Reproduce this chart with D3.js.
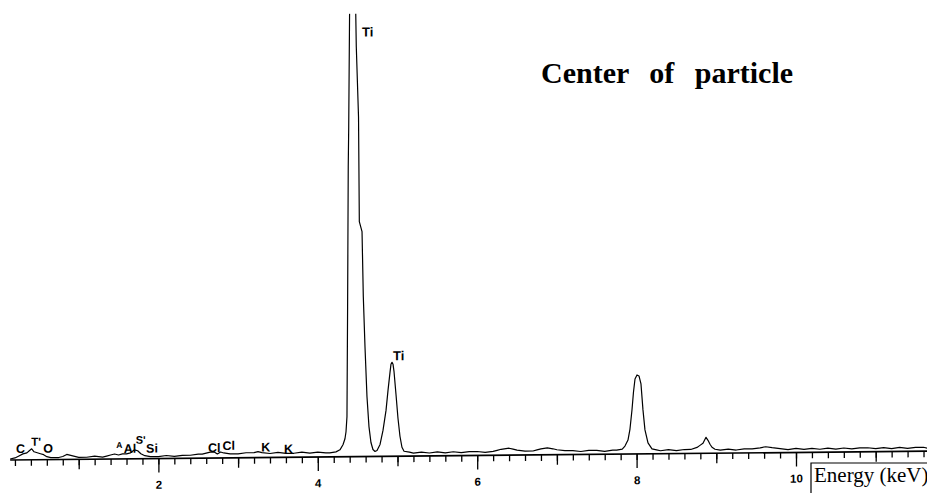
<!DOCTYPE html>
<meta charset="utf-8">
<style>

body {
  margin: 0;
  background: #fff;
}

svg {
  display: block;
}

.spectrum {
  fill: none;
  stroke: #000;
  stroke-width: 1.2px;
  stroke-linejoin: round;
}

.axis-line {
  stroke: #000;
  stroke-width: 1.7px;
}

.tick line {
  stroke-width: 1.3px;
}

.tick text {
  font-family: "Liberation Sans", Arial, sans-serif;
  font-weight: bold;
  font-size: 11.5px;
  fill: #000;
}

.peak-label {
  font-family: "Liberation Sans", Arial, sans-serif;
  font-weight: bold;
  font-size: 12.5px;
  fill: #000;
}

.title {
  font-family: "Liberation Serif", "Times New Roman", serif;
  font-weight: bold;
  font-size: 30px;
  word-spacing: 13px;
}

.axis-title {
  font-family: "Liberation Serif", "Times New Roman", serif;
  font-size: 21px;
}

</style>
<svg width="927" height="493"></svg>
<script src="https://d3js.org/d3.v7.min.js"></script>
<script>

// spectrum: energy (keV) and counts (arbitrary units)
var energy = [
  0.14, 0.20, 0.25, 0.30, 0.35, 0.38, 0.41, 0.44, 0.48, 0.52, 0.56, 0.60, 0.65, 0.70, 0.75,
  0.80, 0.85, 0.90, 0.95, 1.00, 1.10, 1.20, 1.30, 1.35, 1.40, 1.45, 1.50, 1.55, 1.60, 1.65,
  1.70, 1.74, 1.78, 1.83, 1.90, 2.00, 2.10, 2.20, 2.30, 2.40, 2.50, 2.55, 2.60, 2.65, 2.70,
  2.74, 2.78, 2.82, 2.90, 3.00, 3.10, 3.20, 3.25, 3.30, 3.40, 3.50, 3.60, 3.70, 3.80, 3.90,
  4.00, 4.10, 4.15,
  // Ti K-alpha (off scale) and K-beta
  4.228, 4.278, 4.316, 4.341, 4.354, 4.366, 4.374, 4.382, 4.388, 4.423, 4.483, 4.511, 4.521,
  4.555, 4.571, 4.592, 4.617, 4.642, 4.667, 4.692, 4.718, 4.743, 4.781, 4.818, 4.856, 4.881,
  4.906, 4.918, 4.931, 4.944, 4.956, 4.981, 5.006, 5.031, 5.056, 5.082,
  5.15, 5.20, 5.30, 5.40, 5.50, 5.60, 5.70, 5.80, 5.90, 6.00, 6.10, 6.20, 6.25, 6.30, 6.40,
  6.45, 6.50, 6.60, 6.70, 6.75, 6.80, 6.88, 6.95, 7.00, 7.10, 7.20, 7.30, 7.40, 7.50, 7.60,
  7.70, 7.75, 7.82,
  // Cu K-alpha
  7.854, 7.892, 7.917, 7.942, 7.961, 7.980, 8.005, 8.030, 8.055, 8.080, 8.105, 8.143, 8.193,
  8.25, 8.30, 8.40, 8.50, 8.60, 8.68,
  // Cu K-beta
  8.758, 8.795, 8.833, 8.871, 8.896, 8.921, 8.946, 8.984,
  9.05, 9.15, 9.25, 9.35, 9.45, 9.55, 9.62, 9.70, 9.80, 9.90, 10.00, 10.10, 10.20, 10.30,
  10.40, 10.50, 10.60, 10.70, 10.80, 10.90, 11.00, 11.10, 11.20, 11.30, 11.40, 11.50, 11.60, 11.65
];

var counts = [
  1, 2, 4, 6, 7, 9, 11, 8, 7, 6, 5, 3, 2, 2, 2,
  3, 5, 4, 3, 2, 2, 3, 2, 3, 4, 5, 4, 5, 5, 6,
  9, 8, 5, 3, 2, 2, 3, 2, 3, 3, 4, 4, 5, 6, 6,
  4, 6, 5, 4, 4, 5, 5, 6, 5, 4, 5, 4, 4, 5, 4,
  5, 4, 4,
  5, 7, 12, 18, 25, 40, 150, 290, 330, 700, 410, 340, 235,
  225, 160, 110, 60, 30, 14, 7, 5, 6, 12, 26, 46, 66,
  84, 92, 94, 92, 85, 62, 38, 20, 9, 5,
  4, 3, 4, 3, 4, 3, 4, 3, 4, 4, 3, 4, 5, 6, 7,
  6, 5, 4, 4, 5, 6, 7, 6, 5, 4, 4, 3, 4, 4, 3,
  4, 4, 5,
  8, 14, 25, 44, 62, 75, 79, 78, 70, 44, 24, 11, 5,
  4, 3, 4, 3, 4, 4,
  6, 8, 10, 16, 13, 9, 6, 4,
  3, 4, 3, 4, 4, 5, 6, 5, 4, 3, 4, 3, 4, 3,
  4, 3, 4, 3, 4, 4, 3, 4, 3, 4, 3, 4, 4, 3
];

// peak labels: text, energy of the label's left edge, count level of its baseline, font size
var labelText   = ["C", "T'", "O", "Al", "S'", "Si", "Cl", "Cl", "K", "K", "Ti", "Ti"];
var labelEnergy = [0.215, 0.405, 0.555, 1.565, 1.715, 1.845, 2.622, 2.805, 3.29, 3.575, 4.555, 4.944];
var labelLevel  = [7, 14, 7, 6, 15, 6, 6, 8, 6, 4, 420, 96];
var labelSize   = [12.5, 11.5, 12.5, 12.5, 11, 12.5, 12.5, 12.5, 12.5, 12.5, 13, 13];

// the small "A" marker beside Al
var markerText = ["A"];
var markerEnergy = [1.47];
var markerLevel = [11];

var majorTicks = [2, 4, 6, 8, 10];
var mediumTicks = [1, 3, 5, 7, 9, 11];
var minorTicks = d3.range(1, 59).map(function(i) { return i / 5; });

var svg = d3.select("svg"),
    width = +svg.attr("width"),
    height = +svg.attr("height");

var x = d3.scaleLinear().domain([0, 11.65]).range([-1, 927.5]);
var y = d3.scaleLinear().domain([0, 443]).range([460, 17]);
var axisY = y(0);

svg.append("rect")
    .attr("width", width)
    .attr("height", height)
    .attr("fill", "#fff");

svg.append("defs").append("clipPath")
    .attr("id", "plot-clip")
  .append("rect")
    .attr("x", -20)
    .attr("y", y.range()[1])
    .attr("width", width + 40)
    .attr("height", height);

// the scanned plot drifts upward to the right; shear it so x stays put
var ox = x(0.14);
var g = svg.append("g")
    .attr("transform", "translate(" + ox + "," + axisY + ") skewY(-0.55) translate(" + (-ox) + "," + (-axisY) + ")");

var line = d3.line()
    .x(function(d, i) { return x(energy[i]); })
    .y(function(d) { return y(d); });

g.append("path")
    .attr("class", "spectrum")
    .attr("clip-path", "url(#plot-clip)")
    .attr("d", line(counts));

g.append("line")
    .attr("class", "axis-line")
    .attr("x1", x(0.14))
    .attr("x2", x(11.8))
    .attr("y1", axisY)
    .attr("y2", axisY);

function tickRow(values, size, labelled) {
  var axis = d3.axisBottom(x)
      .tickValues(values)
      .tickSize(size)
      .tickSizeOuter(0)
      .tickPadding(8);
  if (!labelled) axis.tickFormat("");
  g.append("g")
      .attr("transform", "translate(0," + axisY + ")")
      .call(axis)
      .call(function(s) { s.select(".domain").remove(); });
}

tickRow(minorTicks, 6, false);
tickRow(mediumTicks, 10, false);
tickRow(majorTicks, 14, true);

g.selectAll(".peak-label")
    .data(labelText)
  .enter().append("text")
    .attr("class", "peak-label")
    .attr("x", function(d, i) { return x(labelEnergy[i]); })
    .attr("y", function(d, i) { return y(labelLevel[i]); })
    .style("font-size", function(d, i) { return labelSize[i] + "px"; })
    .text(function(d) { return d; });

g.selectAll(".marker-label")
    .data(markerText)
  .enter().append("text")
    .attr("class", "peak-label marker-label")
    .attr("x", function(d, i) { return x(markerEnergy[i]); })
    .attr("y", function(d, i) { return y(markerLevel[i]); })
    .style("font-size", "8.5px")
    .text(function(d) { return d; });

svg.append("text")
    .attr("class", "title")
    .attr("x", 541)
    .attr("y", 83)
    .text("Center of particle");

// boxed axis caption in the lower right corner
svg.append("path")
    .attr("d", "M811," + height + "V463H" + width)
    .attr("fill", "none")
    .attr("stroke", "#000")
    .attr("stroke-width", 1.2);

svg.append("text")
    .attr("class", "axis-title")
    .attr("x", 814)
    .attr("y", 482)
    .text("Energy (keV)");

</script>
